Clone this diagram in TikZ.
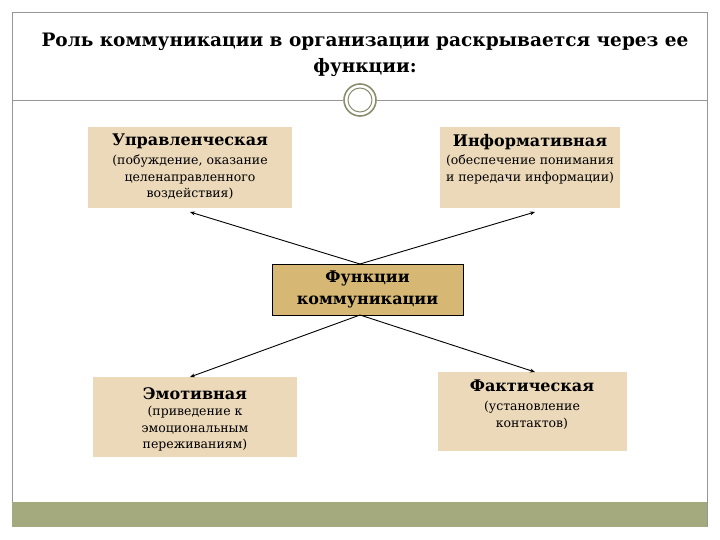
\documentclass[tikz,border=0pt]{standalone}
\usepackage{fontspec}
\setmainfont{DejaVu Serif}
\usetikzlibrary{arrows.meta}
\definecolor{boxfill}{RGB}{236,217,186}
\definecolor{centfill}{RGB}{214,183,115}
\definecolor{band}{RGB}{164,170,126}
\definecolor{frame}{RGB}{150,150,150}
\definecolor{ring}{RGB}{140,140,110}
\tikzset{
  fbox/.style={fill=boxfill,draw=none,inner sep=0pt},
  conn/.style={draw=black,line width=0.9pt,-{Stealth[length=5pt,width=4pt]}},
  ttl/.style={font=\bfseries\fontsize{16}{18}\selectfont,align=center,inner sep=0pt},
  sub/.style={font=\fontsize{12.5}{16.5}\selectfont,align=center,inner sep=0pt},
}
\begin{document}
\begin{tikzpicture}[x=1pt,y=-1pt]
\useasboundingbox (0,0) rectangle (720,540);
\fill[white] (0,0) rectangle (720,540);
\draw[frame,line width=0.8pt] (12,527) -- (12,12) -- (707,12) -- (707,527);
\draw[frame,line width=0.8pt] (12,100) -- (707,100);
\fill[band] (12,502) rectangle (707,527);
\fill[white] (360,100) circle (17);
\draw[ring,line width=1.6pt] (360,100) circle (16);
\draw[ring,line width=1pt] (360,100) circle (12);
\node[font=\bfseries\fontsize{18.5}{26}\selectfont,align=center] (title) at (365,55) {Роль коммуникации в организации раскрывается через ее\\функции:};
% boxes
\path[fbox] (88,127) rectangle (292,208);
\node[ttl,anchor=north] (t1) at (190,134) {Управленческая};
\node[sub,anchor=north] (s1) at (190,155) {(побуждение, оказание\\целенаправленного\\воздействия)};
\coordinate (b1) at (190,212);
\path[fbox] (440,127) rectangle (620,208);
\node[ttl,anchor=north] (t2) at (530,134) {Информативная};
\node[sub,anchor=north] (s2) at (530,155) {(обеспечение понимания\\и передачи информации)};
\coordinate (b2) at (535,212);
\node[draw=black,fill=centfill,line width=0.8pt,minimum width=191pt,minimum height=51pt,font=\bfseries\fontsize{16}{22}\selectfont,align=center] (c) at (367.5,289.5) {Функции\\коммуникации};
\coordinate (ct) at (360,264);
\coordinate (cb) at (360,315);
\path[fbox] (93,377) rectangle (297,457);
\node[ttl,anchor=north] (t3) at (195,387) {Эмотивная};
\node[sub,anchor=north] (s3) at (195,406) {(приведение к\\эмоциональным\\переживаниям)};
\coordinate (b3) at (190,377);
\path[fbox] (438,372) rectangle (627,451);
\node[ttl,anchor=north] (t4) at (532,380) {Фактическая};
\node[sub,anchor=north] (s4) at (532,401) {(установление\\контактов)};
\coordinate (b4) at (535,372);
\draw[conn] (ct) -- (b1);
\draw[conn] (ct) -- (b2);
\draw[conn] (cb) -- (b3);
\draw[conn] (cb) -- (b4);
\end{tikzpicture}
\end{document}
